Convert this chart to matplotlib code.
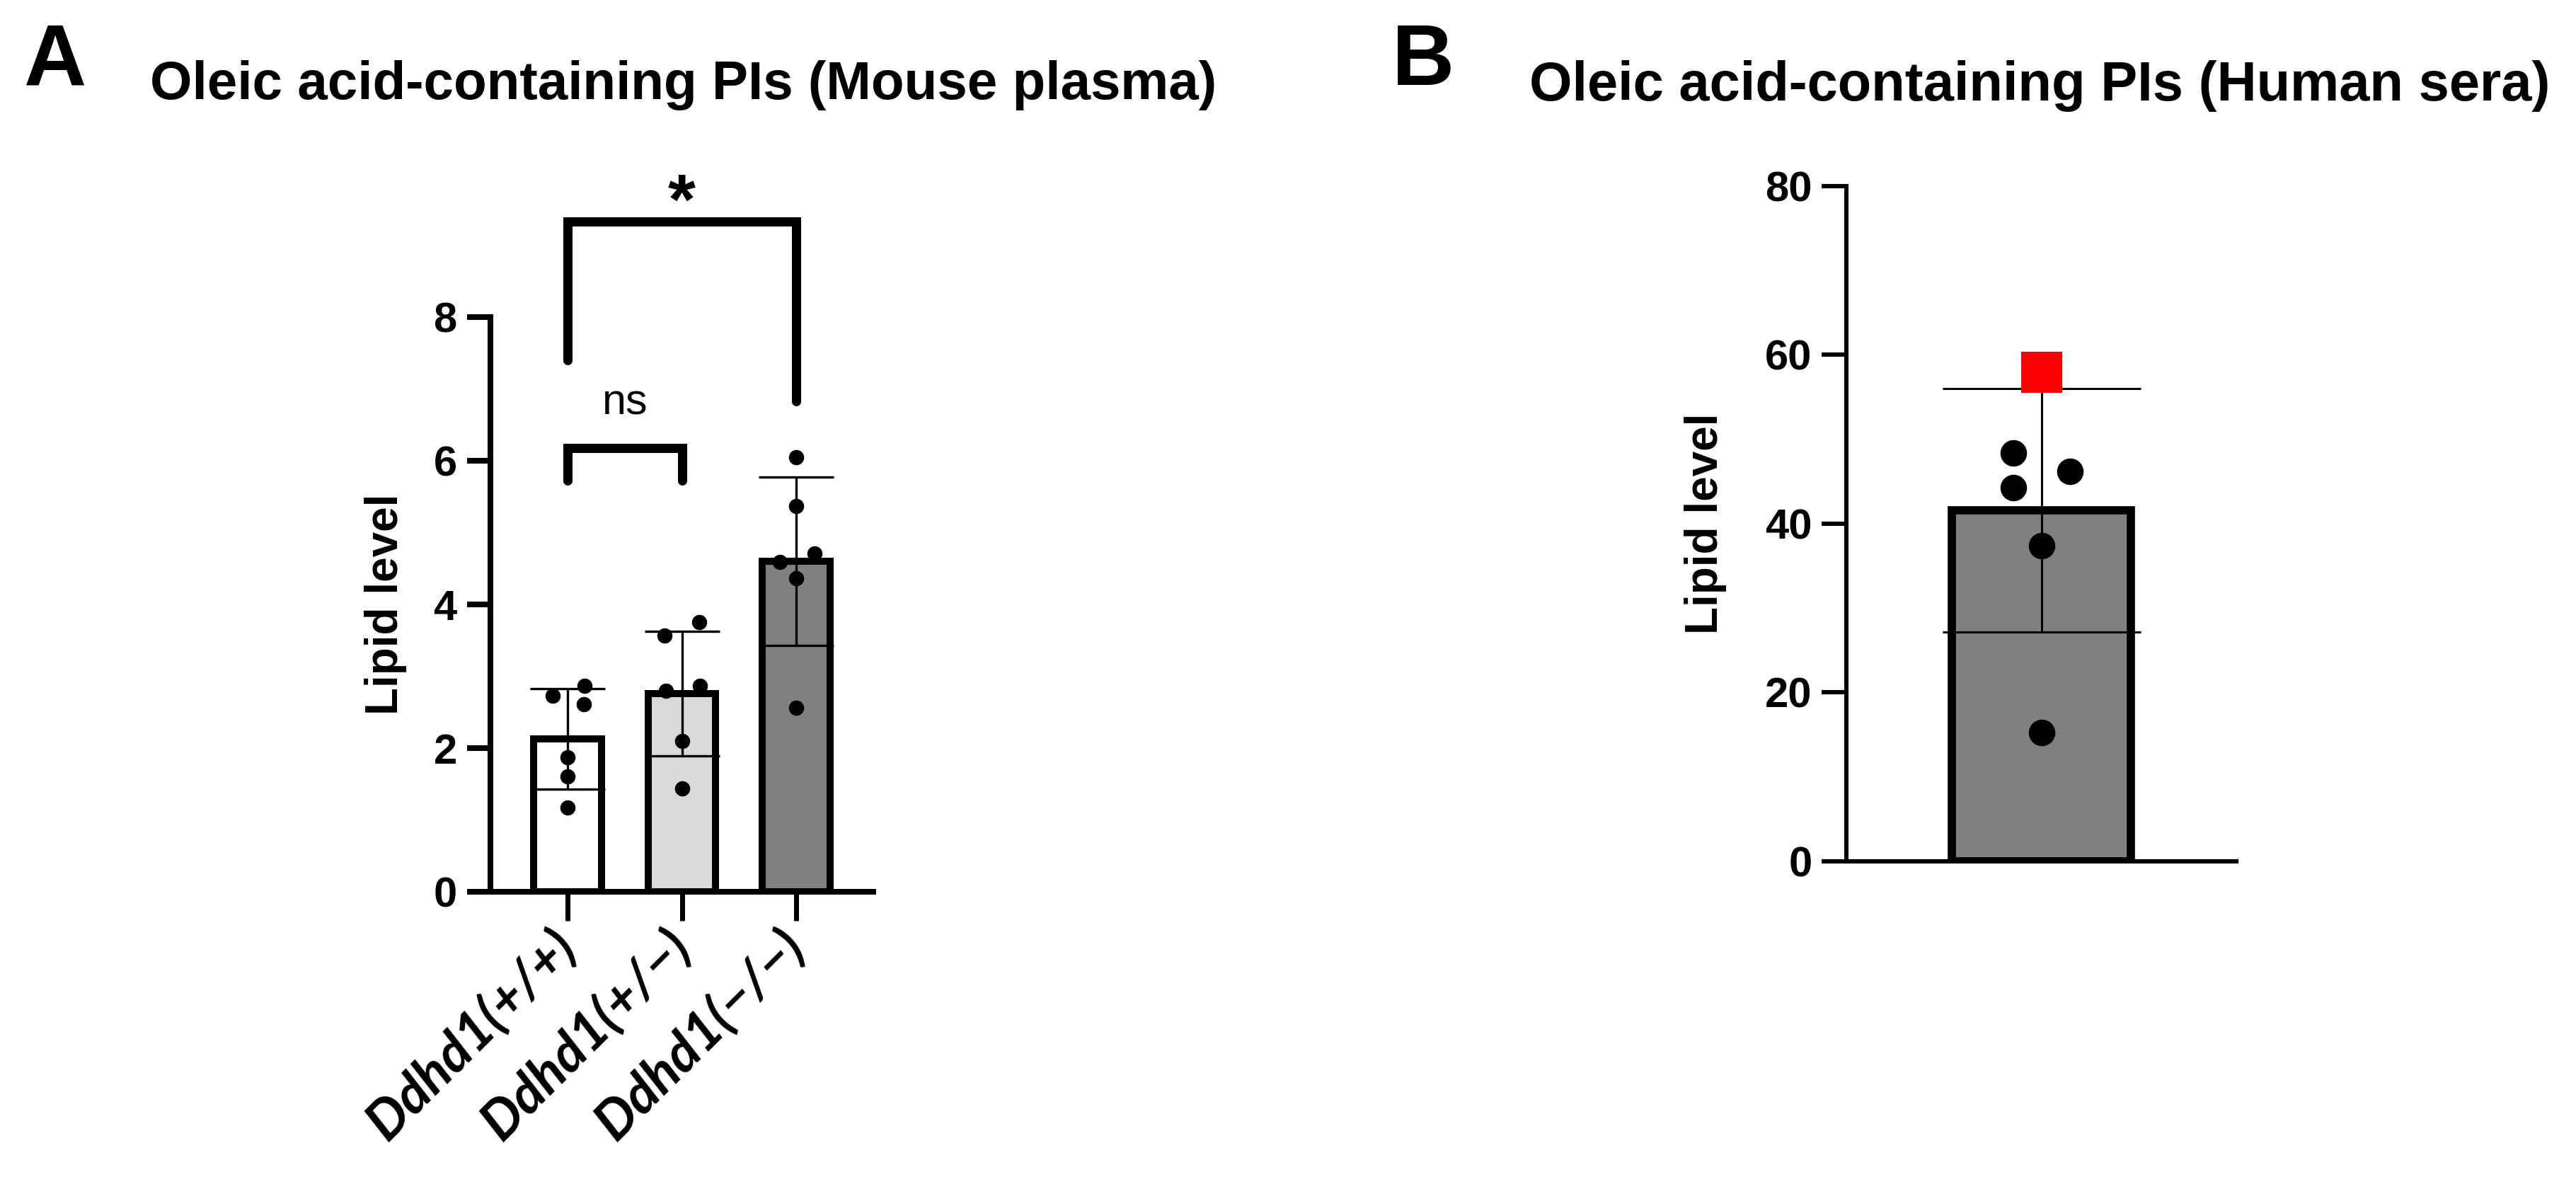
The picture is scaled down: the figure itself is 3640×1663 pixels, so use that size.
import numpy as np
import matplotlib
matplotlib.use('Agg')
from matplotlib import pyplot as plt

# panel A: mouse plasma
groups = ['Ddhd1(+/+)', 'Ddhd1(+/\u2212)', 'Ddhd1(\u2212/\u2212)']
means_a = [2.13, 2.76, 4.60]
sds_a = [0.70, 0.87, 1.17]
pts_wt = [2.73, 2.87, 2.61, 1.87, 1.61, 1.17]
pts_het = [3.57, 3.75, 2.80, 2.87, 2.10, 1.44]
pts_ko = [6.05, 5.37, 4.59, 4.71, 4.36, 2.56]
yticks_a = [0, 2, 4, 6, 8]

# panel B: human sera
mean_b = 41.6
sd_b = 14.4
pts_b = [48.4, 44.3, 46.2, 37.4, 15.3]
pt_b_red = 57.96
yticks_b = [0, 20, 40, 60, 80]

title_a = 'Oleic acid-containing PIs (Mouse plasma)'
title_b = 'Oleic acid-containing PIs (Human sera)'

plt.rcParams['font.family'] = ['Liberation Sans', 'DejaVu Sans']
plt.rcParams['font.weight'] = 'bold'

fig = plt.figure(figsize=(36.4, 16.63), dpi=100)

# ---------- A ----------
ax = fig.add_axes([0.1904, 0.2423, 0.1486, 0.4883])
x = np.arange(3)
ax.bar(x, means_a, width=0.594, color=['white', '#d9d9d9', '#808080'],
       edgecolor='black', linewidth=7.2, zorder=2)
ax.errorbar(x, means_a, yerr=sds_a, fmt='none', ecolor='black',
            elinewidth=2.4, capsize=38, capthick=2.4, zorder=3)

offsets = [[-0.13, 0.15, 0.14, 0, 0, 0],
           [-0.15, 0.15, -0.14, 0.16, 0, 0],
           [0, 0, -0.14, 0.16, 0, 0]]
for i, pts in enumerate([pts_wt, pts_het, pts_ko]):
    ax.scatter(i + np.array(offsets[i]), pts, s=15.5 ** 2, color='black',
               zorder=4, clip_on=False, linewidths=0)

ax.set_xlim(-0.675, 2.675)
ax.set_ylim(0, 8)
ax.set_yticks(yticks_a)
ax.set_xticks(x)
ax.set_xticklabels(groups, rotation=45, ha='right', va='center',
                   rotation_mode='anchor', fontsize=55,
                   family=['Lato', 'DejaVu Sans'], style='italic', weight='bold')
ax.tick_params(axis='y', length=24, width=5.8, labelsize=43, pad=10)
ax.tick_params(axis='x', length=29.5, width=5, pad=18)
for s in ['top', 'right']:
    ax.spines[s].set_visible(False)
for s in ['left', 'bottom']:
    ax.spines[s].set_linewidth(5.8)
ax.set_ylabel('Lipid level', fontsize=46, fontweight='bold')
ax.yaxis.set_label_coords(-0.218, 0.5)

# significance brackets
ax.plot([0, 0, 2, 2], [7.40, 9.33, 9.33, 6.83], color='black', lw=9.4,
        clip_on=False, solid_joinstyle='miter', solid_capstyle='round')
ax.text(1, 9.1, '*', ha='center', va='bottom', fontsize=72, fontweight='bold')
ax.plot([0, 0, 1, 1], [5.72, 6.18, 6.18, 5.72], color='black', lw=9.4,
        clip_on=False, solid_joinstyle='miter', solid_capstyle='round')
ax.text(0.5, 6.52, 'ns', ha='center', va='bottom', fontsize=44, fontweight='normal')

# ---------- B ----------
bx = fig.add_axes([0.7168, 0.2682, 0.1514, 0.5737])
bx.bar([0], [mean_b], width=0.92, color='#808080', edgecolor='black',
       linewidth=8.4, zorder=2)
bx.errorbar([0], [mean_b], yerr=[sd_b], fmt='none', ecolor='black',
            elinewidth=2.2, capsize=101, capthick=2.2, zorder=3)
off_b = [-0.145, -0.145, 0.145, 0, 0]
bx.scatter(np.array(off_b), pts_b, s=27 ** 2, color='black', zorder=4,
           linewidths=0)
bx.scatter([0], [pt_b_red], s=42 ** 2, marker='s', color='#ff0000',
           zorder=5, clip_on=False, linewidths=0)
bx.set_xlim(-1, 1)
bx.set_ylim(0, 80)
bx.set_yticks(yticks_b)
bx.set_xticks([])
bx.tick_params(axis='y', length=25, width=4.4, labelsize=43, pad=10)
for s in ['top', 'right']:
    bx.spines[s].set_visible(False)
for s in ['left', 'bottom']:
    bx.spines[s].set_linewidth(4.4)
bx.set_ylabel('Lipid level', fontsize=46, fontweight='bold')
bx.yaxis.set_label_coords(-0.307, 0.5)

# panel letters and titles
fig.text(0.0093, 1 - 88 / 1663, 'A', fontsize=88, fontweight='bold', va='center')
fig.text(0.0582, 1 - 121 / 1663, title_a, fontsize=55, fontweight='bold', va='center')
fig.text(0.5404, 1 - 88 / 1663, 'B', fontsize=88, fontweight='bold', va='center')
fig.text(0.5937, 1 - 121 / 1663, title_b, fontsize=56, fontweight='bold', va='center')

fig.savefig('out.png', dpi=100, facecolor='white')
